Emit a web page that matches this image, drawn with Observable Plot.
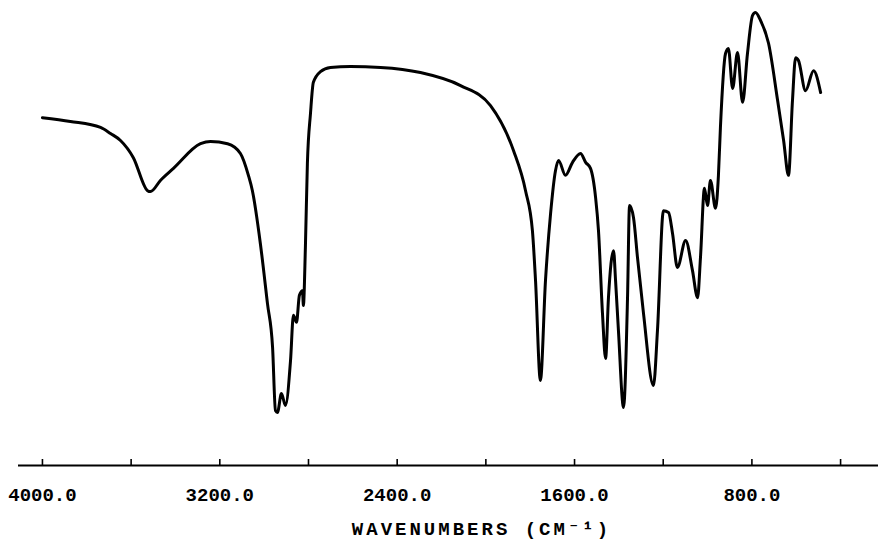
<!DOCTYPE html>
<html>
<head>
<meta charset="utf-8">
<script src="https://cdn.jsdelivr.net/npm/d3@7"></script>
<script src="https://cdn.jsdelivr.net/npm/@observablehq/plot@0.6"></script>
<style>
  html, body { margin: 0; padding: 0; background: #fff; }
  g[aria-label="text"] text { letter-spacing: 3px; }
</style>
</head>
<body>
<div id="chart"></div>
<script>
// IR spectrum: wavenumber (cm-1) and % transmittance
const wavenumber = [4000, 3874, 3738, 3693, 3648, 3590, 3526, 3513, 3468, 3409, 3287, 3242, 3165, 3107, 3071, 3053, 3017, 2985, 2962, 2949, 2940, 2922, 2904, 2881, 2868, 2854, 2841, 2827, 2823, 2814, 2805, 2791, 2778, 2746, 2701, 2611, 2475, 2295, 2114, 1979, 1875, 1821, 1790, 1776, 1754, 1731, 1708, 1686, 1672, 1641, 1609, 1573, 1550, 1528, 1505, 1492, 1474, 1460, 1447, 1424, 1415, 1402, 1379, 1361, 1352, 1334, 1316, 1289, 1244, 1226, 1199, 1176, 1158, 1136, 1099, 1068, 1045, 1032, 1014, 1000, 987, 964, 951, 942, 919, 906, 887, 865, 842, 820, 797, 784, 761, 725, 684, 657, 635, 617, 603, 590, 558, 522, 490];
const transmittance = [74.8, 74.0, 72.7, 71.4, 69.9, 66.2, 59.1, 58.9, 61.3, 63.9, 69.2, 69.7, 69.2, 67.1, 62.4, 59.1, 47.7, 34.8, 25.4, 11.8, 11.4, 15.5, 12.9, 22.6, 32.3, 30.8, 36.6, 37.6, 34.4, 46.9, 64.9, 75.7, 82.4, 84.7, 85.6, 85.8, 85.6, 84.5, 81.7, 77.4, 67.7, 59.1, 50.5, 39.8, 18.3, 39.8, 54.2, 63.4, 65.6, 62.4, 65.2, 67.1, 65.2, 63.9, 57.6, 50.5, 32.7, 23.0, 36.1, 46.2, 39.8, 29.0, 12.5, 36.1, 55.9, 53.3, 44.7, 32.7, 17.2, 29.0, 54.8, 54.4, 49.9, 42.6, 48.4, 41.9, 36.1, 44.7, 59.6, 55.9, 61.3, 55.3, 62.4, 72.7, 88.6, 89.7, 81.1, 88.8, 78.1, 88.6, 96.8, 97.4, 95.7, 90.8, 78.5, 69.9, 62.4, 78.5, 87.7, 87.1, 80.6, 84.9, 80.2];
const tickValues = [4000, 3600, 3200, 2800, 2400, 2000, 1600, 1200, 800, 400];
const labelValues = [4000, 3200, 2400, 1600, 800];
const xLabel = ["WAVENUMBERS (CM\u207B\u00B9)"];

const data = wavenumber.map((w, i) => ({w, t: transmittance[i]}));

const chart = Plot.plot({
  width: 878,
  height: 546,
  marginLeft: 18,
  marginRight: 0,
  marginTop: 0,
  marginBottom: 81,
  style: {fontFamily: "'Liberation Mono', 'DejaVu Sans Mono', monospace", fontWeight: "bold", fontSize: "19px", color: "#000", background: "#fff"},
  x: {domain: [4108, 229]},
  y: {domain: [0, 100], axis: null},
  marks: [
    Plot.ruleY([0], {stroke: "#000", strokeWidth: 2.2}),
    Plot.axisX({ticks: tickValues, tickSize: -6, tickFormat: () => "", strokeWidth: 1.6, label: null}),
    Plot.axisX({ticks: labelValues, tickSize: 0, tickPadding: 22, tickFormat: d => d.toFixed(1), label: null, fontSize: 19}),
    Plot.text(xLabel, {frameAnchor: "bottom", text: d => d, dx: 33, dy: 69, fontSize: 19}),
    Plot.line(data, {x: "w", y: "t", stroke: "#000", strokeWidth: 3, curve: "monotone-x", strokeLinejoin: "round"})
  ]
});
document.getElementById("chart").appendChild(chart);
</script>
</body>
</html>
